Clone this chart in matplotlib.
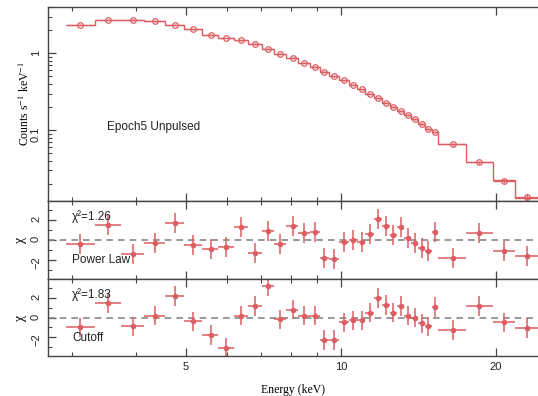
import numpy as np
import matplotlib
matplotlib.use("Agg")
from matplotlib import pyplot as plt
from matplotlib.ticker import FixedLocator, NullFormatter, LogLocator, MultipleLocator

plt.rcParams['font.family'] = ['Liberation Sans', 'DejaVu Sans']
plt.rcParams['mathtext.fontset'] = 'stix'

# Energy bin edges and centres (keV)
bin_edges = [2.93, 3.33, 3.75, 4.14, 4.55, 4.96, 5.37, 5.77, 6.20, 6.60, 7.02,
             7.41, 7.82, 8.25, 8.71, 9.10, 9.48, 9.91, 10.36, 10.74, 11.13,
             11.59, 12.01, 12.45, 12.84, 13.25, 13.68, 14.11, 14.56, 15.02,
             15.43, 17.49, 19.74, 21.77, 24.13]
energy = [3.12, 3.53, 3.95, 4.35, 4.76, 5.16, 5.59, 5.98, 6.41, 6.81, 7.21,
          7.61, 8.06, 8.47, 8.90, 9.28, 9.71, 10.13, 10.56, 10.97, 11.39,
          11.82, 12.23, 12.63, 13.08, 13.48, 13.92, 14.35, 14.78, 15.22,
          16.48, 18.56, 20.73, 22.94]

# Spectrum (counts s^-1 keV^-1)
counts = [2.36, 2.74, 2.74, 2.60, 2.36, 2.05, 1.75, 1.58, 1.48, 1.34, 1.15,
          0.99, 0.87, 0.757, 0.664, 0.572, 0.503, 0.446, 0.392, 0.341, 0.300,
          0.263, 0.229, 0.201, 0.177, 0.157, 0.139, 0.120, 0.105, 0.095,
          0.0652, 0.0381, 0.0220, 0.0134]
counts_err = [0.03, 0.03, 0.03, 0.03, 0.03, 0.025, 0.02, 0.02, 0.02, 0.02, 0.015,
              0.015, 0.012, 0.011, 0.01, 0.009, 0.008, 0.007, 0.006, 0.006, 0.005,
              0.005, 0.004, 0.004, 0.004, 0.003, 0.003, 0.003, 0.003, 0.003,
              0.002, 0.0015, 0.0012, 0.0015]
model = [2.36, 2.74, 2.74, 2.60, 2.36, 2.05, 1.75, 1.58, 1.48, 1.34, 1.15,
         0.99, 0.87, 0.757, 0.664, 0.572, 0.503, 0.446, 0.392, 0.341, 0.300,
         0.263, 0.229, 0.201, 0.177, 0.157, 0.139, 0.120, 0.105, 0.095,
         0.0660, 0.0385, 0.0222, 0.0132]

# Residuals (chi)
resid_pl = [-0.4, 1.5, -1.4, -0.3, 1.7, -0.5, -0.9, -0.7, 1.3, -1.3, 0.9,
            -0.4, 1.4, 0.7, 0.8, -1.8, -1.9, -0.2, 0.0, -0.2, 0.6,
            2.1, 1.4, 0.5, 1.3, 0.2, -0.3, -0.8, -1.1, 0.8,
            -1.8, 0.7, -1.1, -1.6]
resid_cut = [-1.0, 1.5, -0.9, 0.2, 2.2, -0.4, -1.8, -3.1, 0.2, 1.2, 3.2,
             -0.2, 0.8, 0.2, 0.2, -2.3, -2.3, -0.5, -0.3, -0.3, 0.5,
             2.0, 1.3, 0.5, 1.2, 0.2, 0.0, -0.6, -0.9, 1.1,
             -1.3, 1.2, -0.5, -1.1]
resid_err = 1.0

red = '#dd5e62'
axcol = '#444444'

energy = np.array(energy)
edges = np.array(bin_edges)
xlo = energy - edges[:-1]
xhi = edges[1:] - energy

fig = plt.figure(figsize=(5.38, 3.96), dpi=100)
W = 538.0
H = 396.0
left = 48 / W
width = 1.0 - left
ax1 = fig.add_axes([left, 1 - 201 / H, width, (201 - 7) / H])
ax2 = fig.add_axes([left, 1 - 279 / H, width, 78 / H], sharex=ax1)
ax3 = fig.add_axes([left, 1 - 356 / H, width, 77 / H], sharex=ax1)

# top panel: spectrum and step model
ax1.stairs(model, edges, baseline=None, color=red, lw=1.0)
ax1.errorbar(energy, counts, yerr=counts_err, xerr=[xlo, xhi], fmt='o', ms=4,
             mfc='none', mec=red, mew=0.9, ecolor=red, elinewidth=0.9, capsize=0)
ax1.set_yscale('log')
ax1.set_ylim(0.012, 4.0)
ax1.set_ylabel(r"Counts s$^{-1}$ keV$^{-1}$", family='Liberation Serif', fontsize=8.5)
ax1.yaxis.set_label_coords(-0.033, 0.5)
ax1.yaxis.set_major_locator(FixedLocator([0.1, 1]))
ax1.set_yticklabels(['0.1', '1'])
ax1.yaxis.set_minor_locator(LogLocator(base=10, subs=np.arange(2, 10)))
ax1.yaxis.set_minor_formatter(NullFormatter())
ax1.text(0.12, 0.38, "Epoch5 Unpulsed", transform=ax1.transAxes, fontsize=8.5,
         va='center', ha='left', color='#222222')

# residual panels
for ax, res, chi, name in [(ax2, resid_pl, "χ²=1.26", "Power Law"),
                           (ax3, resid_cut, "χ²=1.83", "Cutoff")]:
    ax.axhline(0, color='#888888', lw=1.2, ls=(0, (4, 3)))
    ax.errorbar(energy, res, yerr=resid_err, xerr=[xlo, xhi], fmt='o', ms=3,
                mfc=red, mec=red, ecolor=red, elinewidth=1.1, capsize=0)
    ax.set_ylim(-3.9, 3.9)
    ax.yaxis.set_major_locator(FixedLocator([-2, 0, 2]))
    ax.yaxis.set_minor_locator(MultipleLocator(1))
    ax.set_ylabel("χ", family='Liberation Serif', fontsize=10)
    ax.yaxis.set_label_coords(-0.043, 0.5)
    ax.text(0.049, 0.8, chi, transform=ax.transAxes, fontsize=8.5, va='center',
            ha='left', color='#222222')
    ax.text(0.049, 0.24, name, transform=ax.transAxes, fontsize=8.5, va='center',
            ha='left', color='#222222')

# common axis styling
for ax in [ax1, ax2, ax3]:
    ax.set_xscale('log')
    ax.set_xlim(2.70, 24.13)
    ax.xaxis.set_major_locator(FixedLocator([5, 10, 20]))
    ax.xaxis.set_minor_locator(FixedLocator([3, 4, 6, 7, 8, 9]))
    ax.xaxis.set_minor_formatter(NullFormatter())
    ax.tick_params(which='both', direction='in', top=True, right=False,
                   color=axcol, labelsize=8, labelcolor='#222222')
    ax.tick_params(which='major', length=6, width=0.9)
    ax.tick_params(which='minor', length=3, width=0.8)
    ax.tick_params(axis='y', labelrotation=90, pad=5)
    for s in ['left', 'top', 'bottom']:
        ax.spines[s].set_color(axcol)
        ax.spines[s].set_linewidth(1.0)
    ax.spines['right'].set_visible(False)

ax1.tick_params(axis='x', labelbottom=False)
ax2.tick_params(axis='x', labelbottom=False)
ax3.set_xticklabels(['5', '10', '20'])
ax3.tick_params(axis='x', pad=4)
ax3.set_xlabel("Energy (keV)", family='Liberation Serif', fontsize=8.5, labelpad=9)

fig.savefig("out.png", dpi=100)
